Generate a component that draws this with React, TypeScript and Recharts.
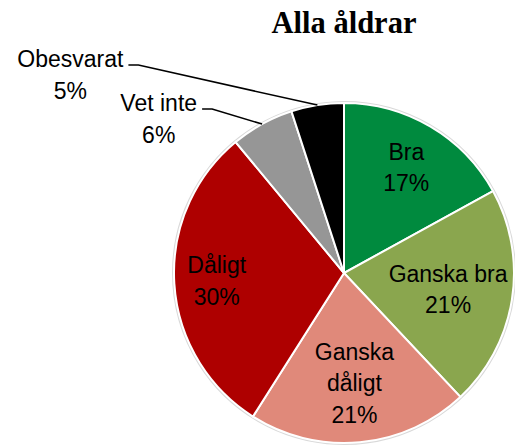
import React from 'react';
import { PieChart, Pie, Cell } from 'recharts';

const categories = ['Bra', 'Ganska bra', 'Ganska dåligt', 'Dåligt', 'Vet inte', 'Obesvarat'];
const percentages = [17, 21, 21, 30, 6, 5];
const colors = ['#008A3E', '#8AA64E', '#E0897A', '#AE0000', '#969696', '#000000'];
const labelTexts = [['Bra'], ['Ganska bra'], ['Ganska', 'dåligt'], ['Dåligt'], ['Vet inte'], ['Obesvarat']];
const title = 'Alla åldrar';

const data = categories.map((name, i) => ({ name, value: percentages[i] }));
const outline = [{ name: 'outline', value: 1 }];

const W = 515;
const H = 448;
const FONT = '"Liberation Sans", Arial, sans-serif';
const FS = 23;
const LH = 31.5;
const RAD = Math.PI / 180;

// layout for labels (not data)
const insideRadiusFactor: Record<number, number> = { 0: 0.72, 1: 0.62, 2: 0.65, 3: 0.75 };
const outsideElbow: Record<number, [number, number]> = { 4: [-50, -15], 5: [-179, -40] };

let ctx: CanvasRenderingContext2D | null = null;
function measure(t: string): number {
  if (!ctx) {
    const c = document.createElement('canvas');
    ctx = c.getContext('2d');
  }
  if (!ctx) return t.length * FS * 0.5;
  ctx.font = `${FS}px "Liberation Sans"`;
  return ctx.measureText(t).width;
}

const renderLabel = (props: any) => {
  const { cx, cy, midAngle, outerRadius, index, value } = props;
  const lines = [...labelTexts[index], `${value}%`];
  if (insideRadiusFactor[index] !== undefined) {
    const r = outerRadius * insideRadiusFactor[index];
    const px = cx + r * Math.cos(-midAngle * RAD);
    const py = cy + r * Math.sin(-midAngle * RAD);
    const y0 = py - ((lines.length - 1) * LH) / 2;
    return (
      <g key={`lbl-${index}`}>
        {lines.map((l, i) => (
          <text key={i} x={px} y={y0 + i * LH} textAnchor="middle" dominantBaseline="central"
            fontFamily={FONT} fontSize={FS} fill="#000">{l}</text>
        ))}
      </g>
    );
  }
  const ex = cx + outerRadius * Math.cos(-midAngle * RAD);
  const ey = cy + outerRadius * Math.sin(-midAngle * RAD);
  const [ox, oy] = outsideElbow[index] || [-40, -20];
  const bx = ex + ox;
  const by = ey + oy;
  const endX = bx - 10;
  const w = measure(lines[0]);
  const textRight = endX - 5;
  const centerX = textRight - w / 2;
  return (
    <g key={`lbl-${index}`}>
      <path d={`M${ex},${ey} L${bx},${by} L${endX},${by}`} stroke="#000" strokeWidth={1.5} fill="none" />
      {lines.map((l, i) => (
        <text key={i} x={centerX} y={by - 6 + i * LH} textAnchor="middle" dominantBaseline="central"
          fontFamily={FONT} fontSize={FS} fill="#000">{l}</text>
      ))}
    </g>
  );
};

export default function App() {
  return (
    <div style={{ position: 'absolute', left: 0, top: 0, width: W, height: H, background: '#fff' }}>
      <PieChart width={W} height={H} margin={{ top: 0, right: 0, bottom: 0, left: 0 }}>
        <Pie
          data={outline}
          dataKey="value"
          cx={344}
          cy={273}
          outerRadius={171}
          innerRadius={0}
          fill="none"
          stroke="#d9d9d9"
          strokeWidth={2}
          isAnimationActive={false}
          label={false}
          labelLine={false}
        />
        <Pie
          data={data}
          dataKey="value"
          nameKey="name"
          cx={344}
          cy={273}
          outerRadius={170}
          innerRadius={0}
          startAngle={90}
          endAngle={-270}
          stroke="#ffffff"
          strokeWidth={2}
          isAnimationActive={false}
          label={renderLabel}
          labelLine={false}
        >
          {data.map((d, i) => (
            <Cell key={d.name} fill={colors[i]} />
          ))}
        </Pie>
      </PieChart>
      <svg width={W} height={60} style={{ position: 'absolute', left: 0, top: 0, pointerEvents: 'none' }}>
        <text x={344} y={33} textAnchor="middle" fontFamily='"Liberation Serif", "Times New Roman", serif'
          fontWeight="bold" fontSize={30.5} fill="#000">{title}</text>
      </svg>
    </div>
  );
}
